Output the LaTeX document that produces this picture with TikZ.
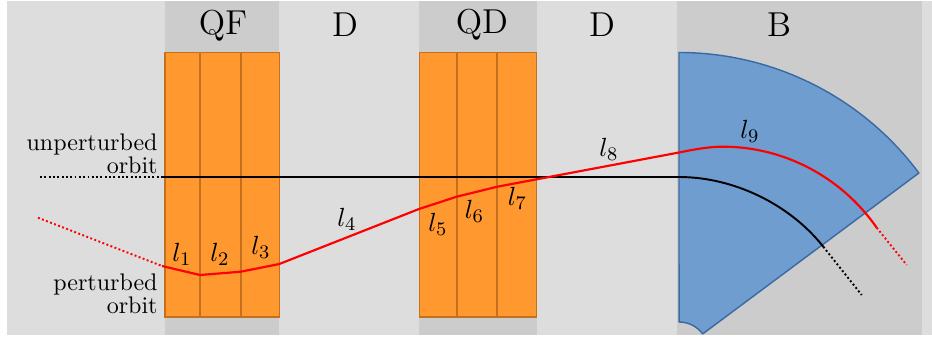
\documentclass[tikz,border=0pt]{standalone}
\tikzset{
  lab/.style={inner sep=0pt,font=\fontsize{10}{9.6}\selectfont,align=right,anchor=east},
  head/.style={inner sep=0pt,font=\Large},
  sym/.style={inner sep=0pt,font=\fontsize{10.95}{12}\selectfont},
  magnet/.style={fill=orangeF,draw=orangeD,line width=0.7pt},
  divider/.style={draw=orangeD,line width=0.7pt},
  redline/.style={draw=red,line width=0.9pt,line join=round},
  blackline/.style={draw=black,line width=0.8pt},
  reddots/.style={draw=red,line width=0.8pt,dash pattern=on 0.8pt off 1pt},
  blackdots/.style={draw=black,line width=0.8pt,dash pattern=on 0.8pt off 1pt}
}
\definecolor{orangeF}{RGB}{255,152,46}
\definecolor{orangeD}{RGB}{196,112,28}
\definecolor{blueF}{RGB}{111,157,208}
\definecolor{blueD}{RGB}{58,106,165}
\definecolor{bgL}{RGB}{221,221,221}
\definecolor{bgD}{RGB}{204,204,204}
\begin{document}
\begin{tikzpicture}[x=0.41667pt,y=-0.41667pt]
\useasboundingbox (0,0) rectangle (932,338);
% background bands
\fill[bgL] (7,1) rectangle (932,335);
\fill[bgD] (165,1) rectangle (279,335);
\fill[bgD] (419,1) rectangle (537,335);
\fill[bgD] (677,1) rectangle (922,335);
% quadrupoles
\draw[magnet] (165,52.5) rectangle (279.5,317);
\draw[divider] (200,52.5) -- (200,317);
\draw[divider] (241,52.5) -- (241,317);
\draw[magnet] (419.5,52.5) rectangle (536.5,317);
\draw[divider] (457,52.5) -- (457,317);
\draw[divider] (497,52.5) -- (497,317);
% dipole
\draw[fill=blueF,draw=blueD,line width=0.6pt,line join=round]
  (679,52.5) arc[start angle=-90,end angle=-36.65,radius=299]
  -- (702.7,333.9) arc[start angle=-36.65,end angle=-90,radius=29.5] -- cycle;
% coordinates of the orbits
\coordinate (u0) at (40,177);
\coordinate (u1) at (162,177);
\coordinate (u2) at (679,177);
\coordinate (u3) at (823.3,246.7);
\coordinate (u4) at (861.7,295);
\coordinate (p0) at (38,217.7);
\coordinate (p1) at (162,266);
\coordinate (p2) at (200,275);
\coordinate (p3) at (240.7,271.7);
\coordinate (p4) at (279.3,264);
\coordinate (p5) at (419,209);
\coordinate (p6) at (456.7,196.7);
\coordinate (p7) at (497.3,186.7);
\coordinate (p8) at (536.7,179.3);
\coordinate (p9) at (679,152.5);
\coordinate (p10) at (723,146.7);
\coordinate (p11) at (876.7,227.7);
\coordinate (p12) at (906.7,265);
% unperturbed orbit
\draw[blackdots] (u0) -- (u1);
\draw[blackline] (u1) -- (u2) .. controls (733.5,177) and (789.5,204) .. (u3);
\draw[blackdots] (u3) -- (u4);
% perturbed orbit
\draw[reddots] (p0) -- (p1);
\draw[redline] (p1) -- (p2) -- (p3) -- (p4) -- (p5) -- (p6) -- (p7) -- (p8) -- (p9)
  .. controls (694,149.5) and (708,146.7) .. (p10)
  .. controls (784.4,146.7) and (841.7,177.3) .. (p11);
\draw[reddots] (p11) -- (p12);
% headers
\node[head] (hqf) at (223,26) {QF};
\node[head] (hd1) at (345,25) {D};
\node[head] (hqd) at (482,25) {QD};
\node[head] (hd2) at (602,25) {D};
\node[head] (hb) at (779,25) {B};
% side labels
\node[lab] (tu) at (158,154) {unperturbed\\orbit};
\node[lab] (tp) at (158,293.5) {perturbed\\orbit};
% segment labels
\node[sym] (l1) at (182,254) {$l_1$};
\node[sym] (l2) at (220,254) {$l_2$};
\node[sym] (l3) at (261,247) {$l_3$};
\node[sym] (l4) at (347,219) {$l_4$};
\node[sym] (l5) at (438,224) {$l_5$};
\node[sym] (l6) at (474.5,211) {$l_6$};
\node[sym] (l7) at (517.5,198) {$l_7$};
\node[sym] (l8) at (609,149) {$l_8$};
\node[sym] (l9) at (750,131) {$l_9$};
\end{tikzpicture}
\end{document}
